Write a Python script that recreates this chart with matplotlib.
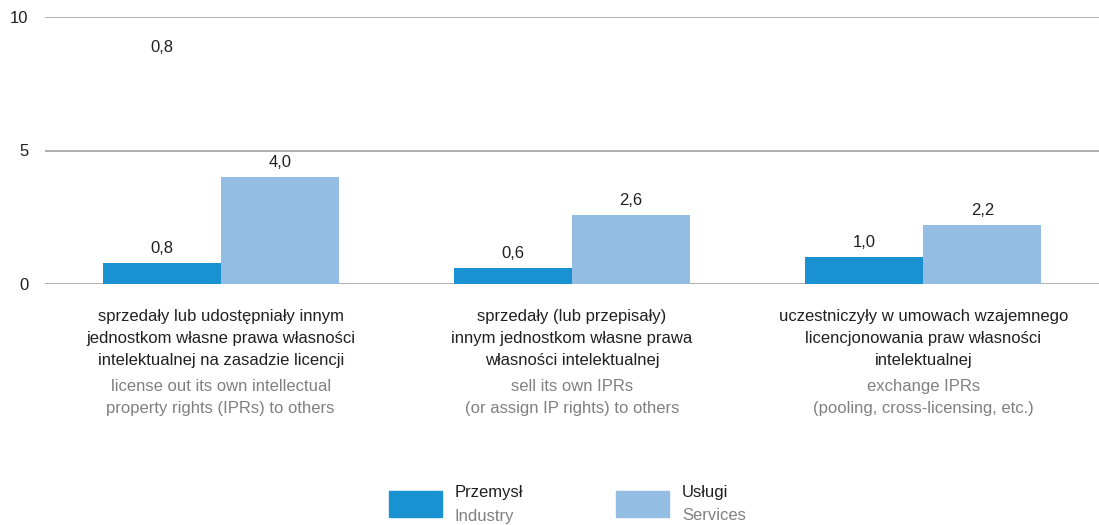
import numpy as np
import matplotlib
matplotlib.use("Agg")
import matplotlib.pyplot as plt
from matplotlib.patches import Rectangle

plt.rcParams['font.family'] = ['Liberation Sans', 'DejaVu Sans']

# dane
labels_pl = ["sprzedały lub udostępniały innym\njednostkom własne prawa własności\nintelektualnej na zasadzie licencji",
             "sprzedały (lub przepisały)\ninnym jednostkom własne prawa\nwłasności intelektualnej",
             "uczestniczyły w umowach wzajemnego\nlicencjonowania praw własności\nintelektualnej"]
labels_en = ["license out its own intellectual\nproperty rights (IPRs) to others",
             "sell its own IPRs\n(or assign IP rights) to others",
             "exchange IPRs\n(pooling, cross-licensing, etc.)"]
przemysl = [0.8, 0.6, 1.0]
uslugi = [4.0, 2.6, 2.2]
stray_label = "0,8"
stray_y = 8.3

c_dark = '#1a92d2'
c_light = '#93bde3'
txt = '#231f20'
grey = '#808080'
fs = 12

fig = plt.figure(figsize=(10.99, 5.25), dpi=100)
ax = fig.add_axes([45/1099, 1-284/525, 1-45/1099, (284-17)/525])

x = np.arange(3)
w = 0.336
b1 = ax.bar(x - w/2, przemysl, w, color=c_dark, zorder=3)
b2 = ax.bar(x + w/2, uslugi, w, color=c_light, zorder=3)

def fmt(v):
    return ("%.1f" % v).replace('.', ',')

for bars, vals in [(b1, przemysl), (b2, uslugi)]:
    for r, v in zip(bars, vals):
        ax.annotate(fmt(v), (r.get_x() + r.get_width()/2, v), xytext=(0, 5),
                    textcoords='offset points', ha='center', va='bottom',
                    fontsize=fs, color=txt)
# zabłąkana etykieta z oryginału
ax.annotate(stray_label, (x[0] - w/2, stray_y), xytext=(0, 5), textcoords='offset points',
            ha='center', va='bottom', fontsize=fs, color=txt)

ax.set_xlim(-0.5, 2.5)
ax.set_ylim(0, 10)
ax.set_yticks([0, 5, 10])
ax.set_yticklabels(['0', '5', '10'], fontsize=fs, color=txt)
ax.yaxis.grid(True, color='#9a9a9a', linewidth=1.1, zorder=0)
ax.set_xticks([])
ax.tick_params(axis='y', length=0, pad=12)
for s in ax.spines.values():
    s.set_visible(False)

for i in range(3):
    ax.text(x[i], -0.92, labels_pl[i], ha='center', va='top', fontsize=fs,
            color=txt, linespacing=1.6, transform=ax.transData)
    ax.text(x[i], -3.55, labels_en[i], ha='center', va='top', fontsize=fs,
            color=grey, linespacing=1.6, transform=ax.transData)

# legenda
for px, col, pl, en in [(389, c_dark, "Przemysł", "Industry"), (616, c_light, "Usługi", "Services")]:
    fig.patches.append(Rectangle((px/1099, 1-517/525), 53/1099, 26/525,
                                 transform=fig.transFigure, color=col))
    fig.text((px+66)/1099, 1-492/525, pl, ha='left', va='center', fontsize=fs, color=txt)
    fig.text((px+66)/1099, 1-516/525, en, ha='left', va='center', fontsize=fs, color=grey)

fig.savefig('out.png', dpi=100)
